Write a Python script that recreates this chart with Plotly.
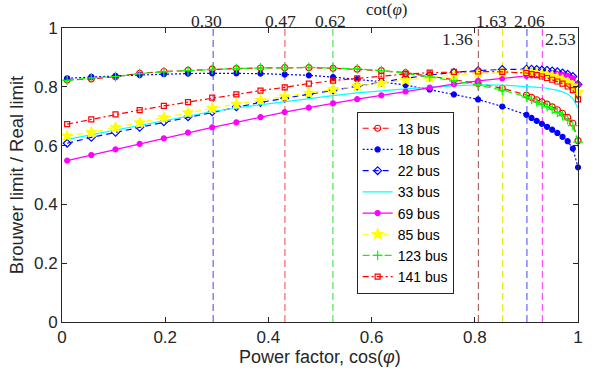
import plotly.graph_objects as go

# Power factor grid (cos phi)
pf = [0.01, 0.0568, 0.1037, 0.1505, 0.1974, 0.2442, 0.2911, 0.3379, 0.3847, 0.4316,
      0.4784, 0.5253, 0.5721, 0.6189, 0.6658, 0.7126, 0.7595, 0.8063, 0.8532, 0.90,
      0.91, 0.92, 0.93, 0.94, 0.95, 0.96, 0.97, 0.98, 0.99, 1.00]

bus13 = [0.823, 0.827, 0.834, 0.846, 0.852, 0.856, 0.860, 0.862, 0.864, 0.865,
         0.865, 0.863, 0.860, 0.855, 0.848, 0.837, 0.824, 0.811, 0.795, 0.772,
         0.764, 0.756, 0.749, 0.741, 0.732, 0.722, 0.710, 0.696, 0.676, 0.617]
bus18 = [0.829, 0.834, 0.837, 0.840, 0.843, 0.845, 0.846, 0.846, 0.845, 0.842,
         0.839, 0.833, 0.826, 0.817, 0.806, 0.791, 0.774, 0.757, 0.733, 0.705,
         0.694, 0.684, 0.674, 0.664, 0.654, 0.643, 0.630, 0.615, 0.590, 0.526]
bus22 = [0.608, 0.628, 0.645, 0.662, 0.681, 0.698, 0.715, 0.732, 0.747, 0.761,
         0.775, 0.789, 0.803, 0.816, 0.829, 0.840, 0.849, 0.855, 0.859, 0.860,
         0.860, 0.859, 0.857, 0.856, 0.854, 0.851, 0.847, 0.843, 0.835, 0.808]
bus33 = [0.621, 0.637, 0.653, 0.669, 0.685, 0.701, 0.716, 0.728, 0.739, 0.749,
         0.759, 0.770, 0.779, 0.787, 0.793, 0.799, 0.804, 0.807, 0.806, 0.802,
         0.800, 0.799, 0.797, 0.795, 0.792, 0.788, 0.783, 0.775, 0.761, 0.727]
bus69 = [0.549, 0.568, 0.587, 0.606, 0.625, 0.644, 0.662, 0.679, 0.697, 0.714,
         0.729, 0.744, 0.758, 0.771, 0.784, 0.797, 0.809, 0.820, 0.829, 0.837,
         0.839, 0.841, 0.842, 0.843, 0.843, 0.843, 0.841, 0.837, 0.829, 0.808]
bus85 = [0.633, 0.645, 0.662, 0.678, 0.696, 0.712, 0.727, 0.741, 0.755, 0.767,
         0.779, 0.791, 0.803, 0.813, 0.823, 0.832, 0.840, 0.846, 0.848, 0.851,
         0.849, 0.847, 0.844, 0.841, 0.836, 0.830, 0.823, 0.814, 0.803, 0.781]
bus123 = [0.822, 0.830, 0.835, 0.845, 0.851, 0.855, 0.859, 0.862, 0.864, 0.865,
          0.866, 0.864, 0.861, 0.855, 0.846, 0.834, 0.820, 0.806, 0.789, 0.766,
          0.757, 0.749, 0.741, 0.733, 0.724, 0.713, 0.702, 0.688, 0.668, 0.612]
bus141 = [0.673, 0.689, 0.706, 0.721, 0.735, 0.748, 0.763, 0.774, 0.787, 0.798,
          0.811, 0.821, 0.829, 0.837, 0.843, 0.848, 0.851, 0.852, 0.851, 0.847,
          0.843, 0.840, 0.835, 0.830, 0.824, 0.818, 0.811, 0.801, 0.789, 0.757]

# Vertical reference lines (cos phi) and their cot(phi) labels
vline_pf = [0.293, 0.432, 0.525, 0.807, 0.854, 0.901, 0.931]
vline_colors = ["rgba(60,60,255,0.8)", "rgba(255,60,60,0.8)", "rgba(40,220,40,0.8)",
                "rgba(150,70,60,0.8)", "rgba(230,230,0,0.9)", "rgba(60,60,255,0.8)",
                "rgba(255,40,255,0.8)"]
cot_labels = ["0.30", "0.47", "0.62", "1.36", "1.63", "2.06", "2.53"]
cot_label_x = [0.2803, 0.4239, 0.5212, 0.7659, 0.8333, 0.9056, 0.9663]
cot_label_row = [0, 0, 0, 1, 0, 0, 1]   # 0 = above axis, 1 = inside plot

x_ticks = [0, 0.2, 0.4, 0.6, 0.8, 1]
x_ticklabels = ["0", "0.2", "0.4", "0.6", "0.8", "1"]
y_ticks = [0, 0.2, 0.4, 0.6, 0.8, 1]
y_ticklabels = ["0", "0.2", "0.4", "0.6", "0.8", "1"]

SANS = "Arial, Liberation Sans, sans-serif"
SERIF = "Times New Roman, Liberation Serif, serif"
AX = "#262626"

series = [
    ("13 bus", bus13, "#ff0000", "6px,4px", "circle-open", 6),
    ("18 bus", bus18, "#0000ff", "2px,2px", "circle", 5),
    ("22 bus", bus22, "#0000ff", "6px,4px", "diamond-open", 6),
    ("33 bus", bus33, "#00ffff", "solid", None, 0),
    ("69 bus", bus69, "#ff00ff", "solid", "circle", 5),
    ("85 bus", bus85, "#ffff00", "6px,4px", "star", 8),
    ("123 bus", bus123, "#00ff00", "7px,4px", "cross-thin-open", 7),
    ("141 bus", bus141, "#ff0000", "6px,3px,2px,3px", "square-open", 5),
]

fig = go.Figure()
for name, vals, col, dash, sym, size in series:
    if sym is None:
        fig.add_trace(go.Scatter(x=pf, y=vals, name=name, mode="lines",
                                 line=dict(color=col, width=1.2, dash=dash),
                                 cliponaxis=False))
    else:
        fig.add_trace(go.Scatter(x=pf, y=vals, name=name, mode="lines+markers",
                                 line=dict(color=col, width=1.2, dash=dash),
                                 marker=dict(symbol=sym, size=size, color=col,
                                             line=dict(color=col, width=1.2)),
                                 cliponaxis=False))

shapes = []
for xv, c in zip(vline_pf, vline_colors):
    shapes.append(dict(type="line", xref="x", yref="y", x0=xv, x1=xv, y0=0, y1=1,
                       line=dict(color=c, width=1.2, dash="7px,4px"), layer="below"))

annotations = []
for lab, lx, row in zip(cot_labels, cot_label_x, cot_label_row):
    annotations.append(dict(text=lab, x=lx, xref="x", y=(1.0248 if row == 0 else 0.9616),
                            yref="paper", showarrow=False, xanchor="center", yanchor="middle",
                            font=dict(family=SERIF, size=17.5, color=AX)))
annotations.append(dict(text="cot(<i>φ</i>)", x=0.629, xref="x", y=1.0636, yref="paper",
                        showarrow=False, xanchor="center", yanchor="middle",
                        font=dict(family=SERIF, size=17, color=AX)))
# x-axis title
annotations.append(dict(text="Power factor, cos(<i>φ</i>)", x=0.5, xref="paper",
                        y=-0.118, yref="paper", showarrow=False,
                        xanchor="center", yanchor="middle",
                        font=dict(family=SANS, size=18, color=AX)))

fig.update_layout(
    width=595, height=368,
    margin=dict(l=62, r=13, t=28, b=46),
    paper_bgcolor="white", plot_bgcolor="white",
    font=dict(family=SANS, color=AX),
    shapes=shapes, annotations=annotations,
    legend=dict(x=0.665, xanchor="center", y=0.406, yanchor="middle",
                bgcolor="white", bordercolor=AX, borderwidth=1,
                font=dict(family=SANS, size=14, color="#000000"),
                tracegroupgap=0),
    xaxis=dict(range=[0, 1], tickvals=x_ticks, ticktext=x_ticklabels,
               showgrid=False, zeroline=False, showline=True, linecolor=AX, linewidth=1,
               mirror="ticks", ticks="inside", ticklen=5, tickcolor=AX,
               tickfont=dict(family=SANS, size=17, color=AX)),
    yaxis=dict(range=[0, 1], tickvals=y_ticks, ticktext=y_ticklabels,
               showgrid=False, zeroline=False, showline=True, linecolor=AX, linewidth=1,
               mirror="ticks", ticks="inside", ticklen=5, tickcolor=AX,
               tickfont=dict(family=SANS, size=17, color=AX),
               title=dict(text="Brouwer limit / Real limit", standoff=5,
                          font=dict(family=SANS, size=18.5, color=AX))),
)

fig.write_html("out.html", config={"displayModeBar": False},
               post_script="document.body.style.margin='0';document.body.style.padding='0';")
